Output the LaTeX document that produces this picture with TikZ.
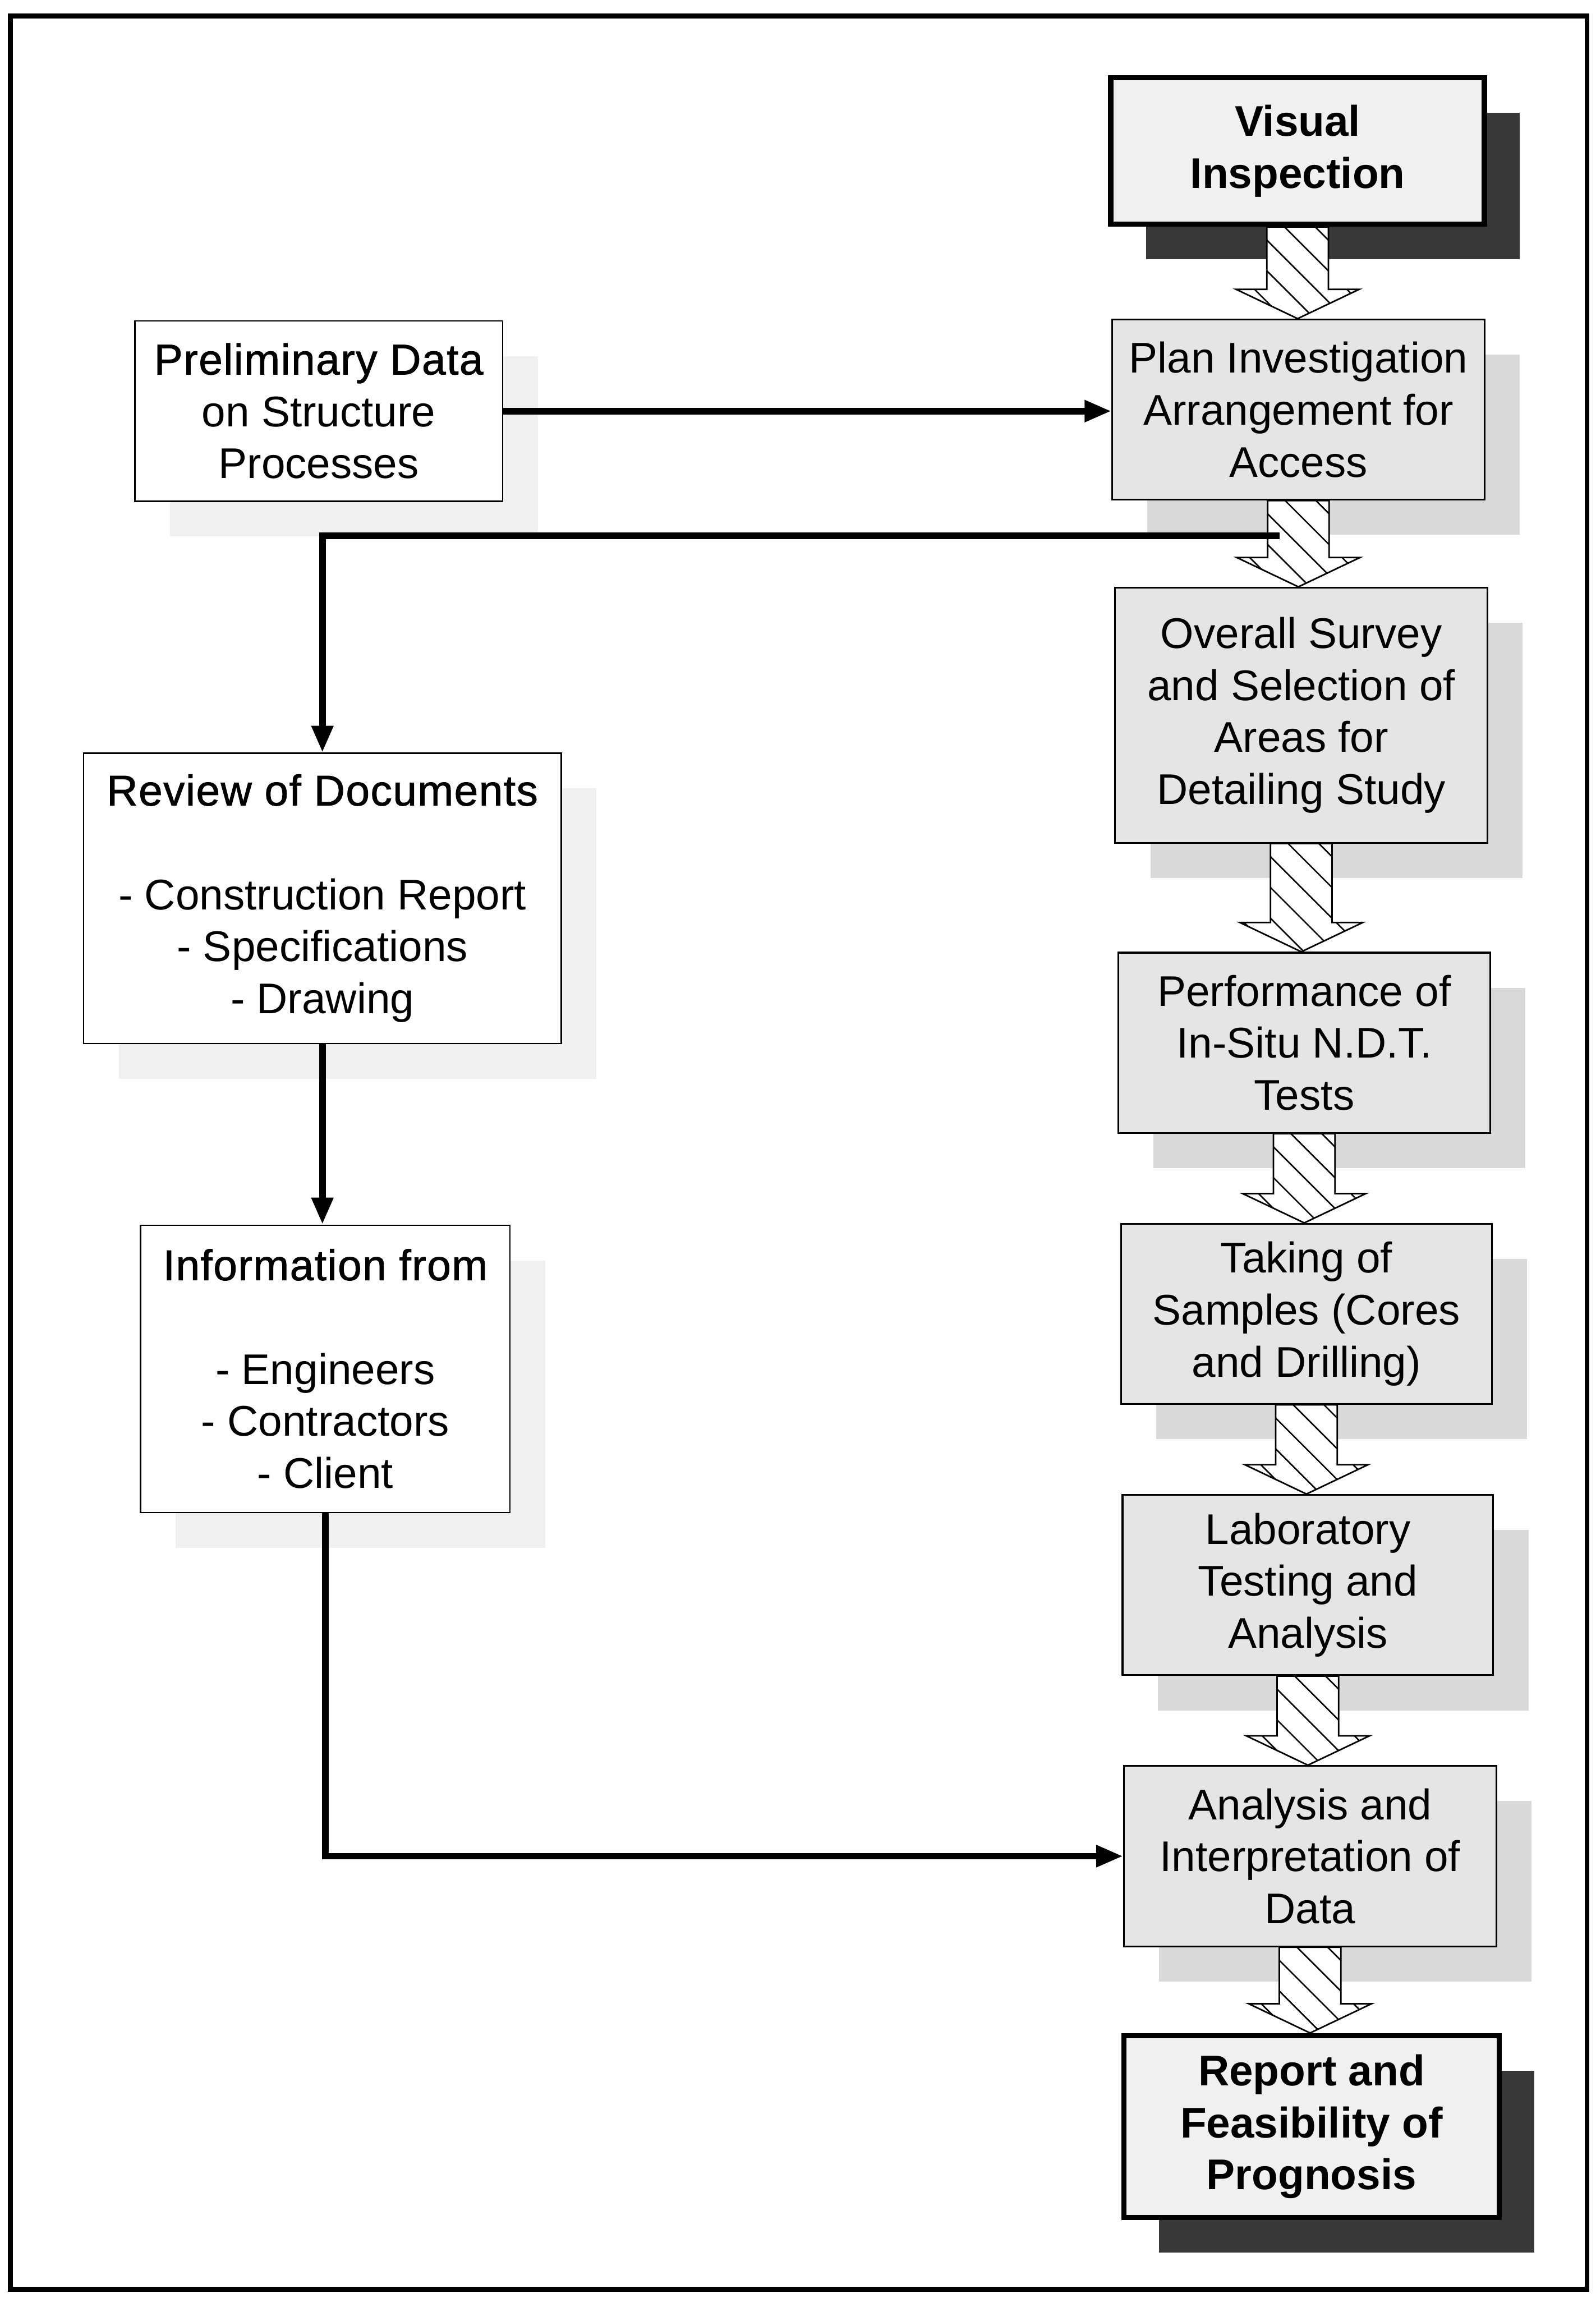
\documentclass[tikz,border=0pt]{standalone}
\usepackage{fontspec}
\setmainfont{Liberation Sans}
% medium-weight face for the headings of the information boxes
\newfontfamily\headfont[FakeBold=1.2, LetterSpace=2]{Liberation Sans}
\usetikzlibrary{shadows,arrows.meta,calc}

% Hatched block arrow from the bottom of one step box (#1) down to the top of the next (#2)
\newcommand{\hatchflow}[2]{%
  \path (#1) coordinate (hf-a) (#1 |- #2) coordinate (hf-b);
  \path ($(hf-a)+(-21,0)$) coordinate (hf-1) ($(hf-b)+(-21,-20)$) coordinate (hf-2)
        ($(hf-b)+(-42,-20)$) coordinate (hf-3) ($(hf-b)+(42,-20)$) coordinate (hf-5)
        ($(hf-b)+(21,-20)$) coordinate (hf-6) ($(hf-a)+(21,0)$) coordinate (hf-7);
  \fill[white] (hf-1) -- (hf-2) -- (hf-3) -- (hf-b) -- (hf-5) -- (hf-6) -- (hf-7) -- cycle;
  \begin{scope}
    \clip (hf-1) -- (hf-2) -- (hf-3) -- (hf-b) -- (hf-5) -- (hf-6) -- (hf-7) -- cycle;
    \foreach \k in {-8,...,4}
      \draw[hatchline] ($(hf-a)+(-11+21*\k,-2)$) -- ++(160,160);
  \end{scope}
  \draw[flowedge] (hf-1) -- (hf-2) -- (hf-3) -- (hf-b) -- (hf-5) -- (hf-6) -- (hf-7) -- cycle;
}

\begin{document}
\begin{tikzpicture}[x=0.3mm, y=-0.3mm,
  every node/.style={font=\fontsize{25pt}{30.3pt}\selectfont, align=center, inner sep=0pt},
  bsize/.style 2 args={minimum width=#1*0.3mm, minimum height=#2*0.3mm},
  stepbox/.style={draw=black, line width=0.35mm, fill=black!10,
    drop shadow={shadow xshift=7.2mm, shadow yshift=-7.2mm, fill=black!15, opacity=1}},
  keybox/.style={draw=black, line width=1.1mm, fill=black!6,
    font=\fontsize{25pt}{30.3pt}\selectfont\bfseries,
    drop shadow={shadow xshift=7.2mm, shadow yshift=-7.2mm, fill=black!78, opacity=1}},
  sourcebox/.style={draw=black, line width=0.3mm, fill=white,
    drop shadow={shadow xshift=7.2mm, shadow yshift=-7.2mm, fill=black!6, opacity=1}},
  hatchline/.style={line width=0.3mm, black},
  flowedge/.style={line width=0.32mm, black, line join=miter},
  conn/.style={line width=1.35mm, black, -{Triangle[length=5.5mm,width=4.2mm]}},
  frameline/.style={line width=1mm, black}
]
\useasboundingbox (0,0) rectangle (1089,1568);
\draw[frameline] (7,11) rectangle (1083,1562);

% main sequence of steps
\node[keybox, bsize={255}{100}] (vis) at (885.5,103) {Visual\\Inspection};
\node[stepbox, bsize={254}{123}] (plan) at (886,279.5) {Plan Investigation\\Arrangement for\\Access};
\node[stepbox, bsize={254}{174}] (survey) at (888,488) {Overall Survey\\and Selection of\\Areas for\\Detailing Study};
\node[stepbox, bsize={254}{123}] (ndt) at (890,711.5) {Performance of\\In-Situ N.D.T.\\Tests};
\node[stepbox, bsize={253}{123}] (samp) at (891.5,896.5) {Taking of\\Samples (Cores\\and Drilling)};
\node[stepbox, bsize={253}{123}] (lab) at (892.5,1081.5) {Laboratory\\Testing and\\Analysis};
\node[stepbox, bsize={254}{123}] (anal) at (894,1266.5) {Analysis and\\Interpretation of\\Data};
\node[keybox, bsize={256}{124}] (rep) at (895,1451) {Report and\\Feasibility of\\Prognosis};

% background information
\node[sourcebox, bsize={251}{123}] (pre) at (217.5,280.5) {{\headfont Preliminary Data}\\on Structure\\Processes};
\node[sourcebox, bsize={326}{198}] (rev) at (220,613) {{\headfont Review of Documents}\\[30.3pt]- Construction Report\\- Specifications\\- Drawing};
\node[sourcebox, bsize={252}{196}] (info) at (222,934) {{\headfont Information from}\\[30.3pt]- Engineers\\- Contractors\\- Client};

% hatched flow arrows
\hatchflow{vis.south}{plan.north}
\hatchflow{plan.south}{survey.north}
\hatchflow{survey.south}{ndt.north}
\hatchflow{ndt.south}{samp.north}
\hatchflow{samp.south}{lab.north}
\hatchflow{lab.south}{anal.north}
\hatchflow{anal.south}{rep.north}

% connectors
\coordinate (tap) at (873,365.5);
\draw[conn] (pre.east) -- (pre.east -| plan.west);
\draw[conn] (tap) -| (rev.north);
\draw[conn] (rev.south) -- (rev.south |- info.north);
\draw[conn] (info.south) |- (anal.west);
\end{tikzpicture}
\end{document}
